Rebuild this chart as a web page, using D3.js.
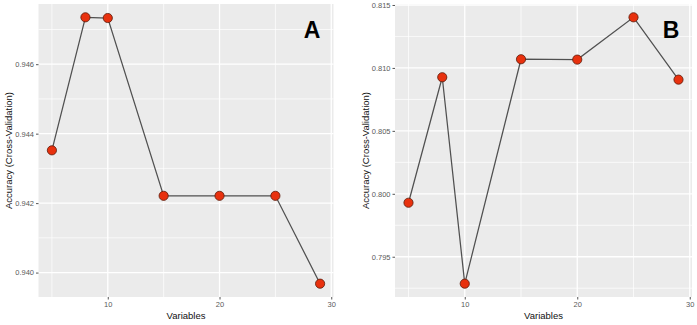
<!DOCTYPE html>
<html><head><meta charset="utf-8">
<script src="https://cdn.jsdelivr.net/npm/d3@7"></script>
<style>body{margin:0;background:#fff}svg{display:block;font-family:"Liberation Sans",Arial,sans-serif}</style>
</head><body><svg id="c" width="697" height="325"></svg>
<script>
const variables = [5, 8, 10, 15, 20, 25, 29];
const accuracyA = [0.94352, 0.94735, 0.94733, 0.94221, 0.94221, 0.94221, 0.93968];
const accuracyB = [0.79929, 0.80926, 0.79286, 0.81069, 0.81066, 0.81402, 0.80907];
const xTicks = [10, 20, 30];
const xMinor = [5, 15, 25];
const yTicksA = [0.940, 0.942, 0.944, 0.946];
const yMinorA = [0.941, 0.943, 0.945, 0.947];
const yTicksB = [0.795, 0.800, 0.805, 0.810, 0.815];
const yMinorB = [0.7925, 0.7975, 0.8025, 0.8075, 0.8125];
const labelA = "A", labelB = "B";

const svg = d3.select("#c");

function panel(cfg){
  const {left, right, top, bottom, vals, yT, yM, label, labelX, titleX} = cfg;
  const g = svg.append("g");
  const xExt = d3.extent(variables), xPad = (xExt[1]-xExt[0])*0.05;
  const x = d3.scaleLinear().domain([xExt[0]-xPad, xExt[1]+xPad]).range([left, right]);
  const yExt = d3.extent(vals), yPad = (yExt[1]-yExt[0])*0.05;
  const y = d3.scaleLinear().domain([yExt[0]-yPad, yExt[1]+yPad]).range([bottom, top]);
  g.append("rect").attr("x", left).attr("y", top).attr("width", right-left).attr("height", bottom-top).attr("fill", "#ebebeb");
  g.selectAll(".ym").data(yM).join("line").attr("x1", left).attr("x2", right)
    .attr("y1", d=>y(d)).attr("y2", d=>y(d)).attr("stroke", "#fff").attr("stroke-width", 0.7);
  g.selectAll(".xm").data(xMinor).join("line").attr("y1", top).attr("y2", bottom)
    .attr("x1", d=>x(d)).attr("x2", d=>x(d)).attr("stroke", "#fff").attr("stroke-width", 0.7);
  g.selectAll(".yg").data(yT).join("line").attr("x1", left).attr("x2", right)
    .attr("y1", d=>y(d)).attr("y2", d=>y(d)).attr("stroke", "#fff").attr("stroke-width", 1.3);
  g.selectAll(".xg").data(xTicks).join("line").attr("y1", top).attr("y2", bottom)
    .attr("x1", d=>x(d)).attr("x2", d=>x(d)).attr("stroke", "#fff").attr("stroke-width", 1.3);

  const ax = g.append("g").attr("transform", `translate(0,${bottom})`)
    .call(d3.axisBottom(x).tickValues(xTicks).tickSize(2.5).tickPadding(2).tickFormat(d3.format("d")));
  ax.select(".domain").remove();
  ax.selectAll("line").attr("stroke", "#555");
  ax.selectAll("text").attr("fill", "#5a5a5a").attr("font-size", 7.5);

  const ay = g.append("g").attr("transform", `translate(${left},0)`)
    .call(d3.axisLeft(y).tickValues(yT).tickSize(2.5).tickPadding(2).tickFormat(d3.format(".3f")));
  ay.select(".domain").remove();
  ay.selectAll("line").attr("stroke", "#555");
  ay.selectAll("text").attr("fill", "#5a5a5a").attr("font-size", 7.5);

  const line = d3.line().x((d,i)=>x(variables[i])).y(d=>y(d));
  g.append("path").datum(vals).attr("d", line).attr("fill", "none").attr("stroke", "#505050").attr("stroke-width", 1.25);
  g.selectAll(".pt").data(vals).join("circle").attr("cx", (d,i)=>x(variables[i])).attr("cy", d=>y(d))
    .attr("r", 4.6).attr("fill", "#e8310e").attr("stroke", "#5a1a0a").attr("stroke-width", 0.8);

  g.append("text").attr("x", (left+right)/2).attr("y", 319).attr("text-anchor", "middle")
    .attr("font-size", 9.5).attr("fill", "#111").text("Variables");
  g.append("text").attr("transform", `translate(${titleX},${(top+bottom)/2}) rotate(-90)`)
    .attr("text-anchor", "middle").attr("font-size", 9.5).attr("fill", "#111").text("Accuracy (Cross-Validation)");
  g.append("text").attr("x", labelX).attr("y", 38).attr("text-anchor", "middle")
    .attr("font-size", 23).attr("font-weight", "bold").attr("fill", "#000").text(label);
}

panel({left: 38.5, right: 333.5, top: 4, bottom: 297, vals: accuracyA, yT: yTicksA, yM: yMinorA, label: labelA, labelX: 312, titleX: 12});
panel({left: 395, right: 692, top: 4, bottom: 297, vals: accuracyB, yT: yTicksB, yM: yMinorB, label: labelB, labelX: 671, titleX: 368.5});
</script></body></html>
